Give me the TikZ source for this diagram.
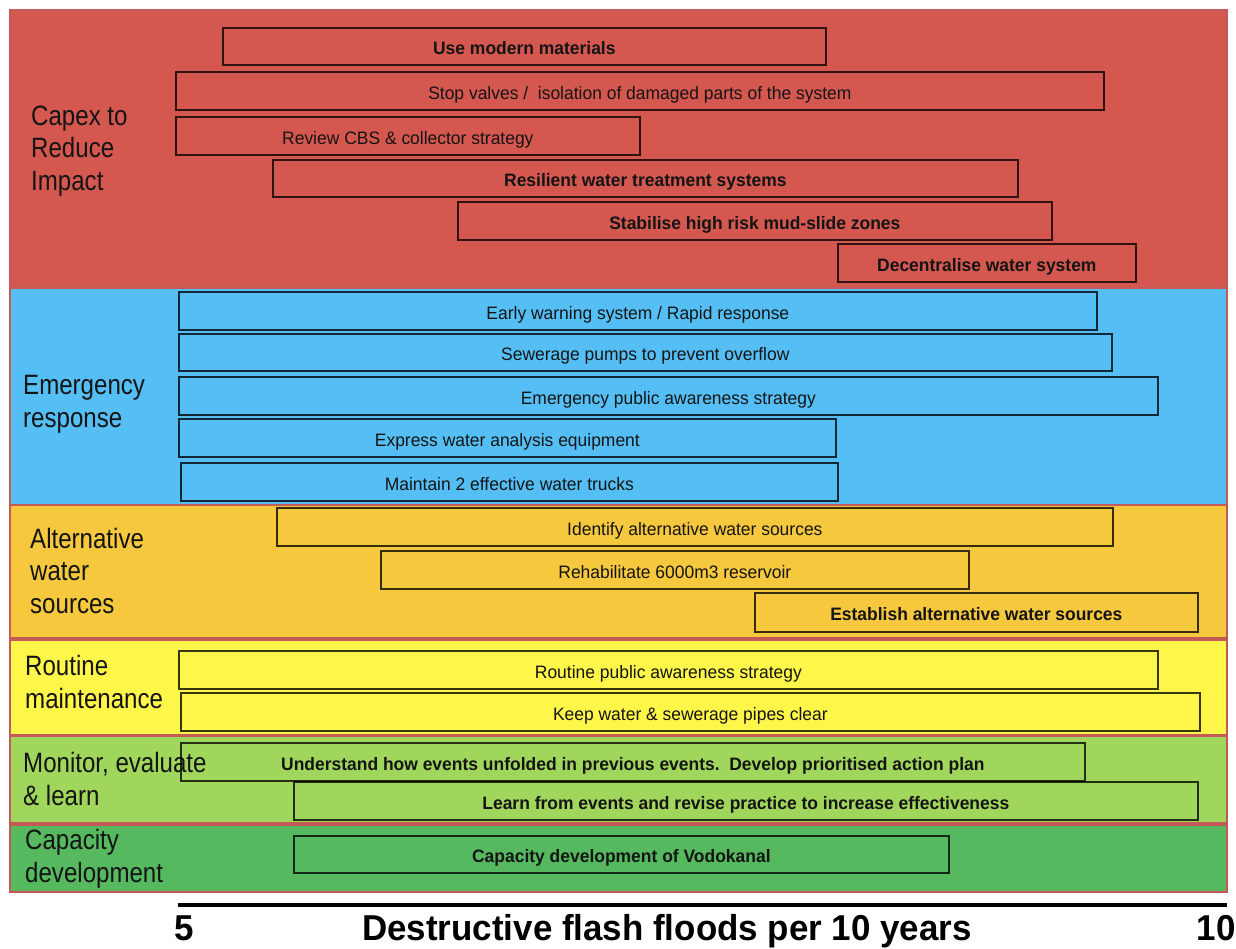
\documentclass[tikz,border=0pt]{standalone}
\usepackage{fontspec}
\newfontfamily\narrow[FakeStretch=0.86]{Liberation Sans}
\newfontfamily\boxfont[FakeStretch=0.97]{Liberation Sans}
\definecolor{bandred}{RGB}{212,87,80}
\definecolor{bandblue}{RGB}{85,191,245}
\definecolor{bandorange}{RGB}{246,200,62}
\definecolor{bandyellow}{RGB}{255,246,74}
\definecolor{bandlgreen}{RGB}{160,214,92}
\definecolor{bandgreen}{RGB}{86,185,96}
\definecolor{bandedge}{RGB}{196,90,88}
\definecolor{inkdark}{RGB}{20,20,20}
\tikzset{
  band/.style={draw=bandedge, line width=1.2pt},
  box/.style={draw=black, draw opacity=0.78, line width=1.7pt, anchor=north west,
    inner sep=0pt, text height=17pt, text depth=0pt, text=inkdark,
    font=\boxfont\fontsize{18}{21}\selectfont},
  bbox/.style={box, font=\boxfont\bfseries\fontsize{18}{21}\selectfont},
  catlabel/.style={anchor=base west, align=left, inner sep=0pt, text=inkdark,
    font=\narrow\fontsize{28}{32.5}\selectfont},
  axislabel/.style={anchor=base, inner sep=0pt, text=black, font=\boxfont\bfseries\fontsize{36}{42}\selectfont}
}
\newcommand{\bx}[7]{%
  \node[#1, minimum width={(#5-#3)*1pt}, minimum height={(#6-#4)*1pt}] (#2) at (#3,#4) {#7};}
\begin{document}
\begin{tikzpicture}[x=1pt,y=-1pt]
\useasboundingbox[fill=white] (0,0) rectangle (1236,948);
% bands
\path[band, fill=bandred]    (10,10)  rectangle (1227,288);
\path[band, fill=bandblue]   (10,288) rectangle (1227,505);
\path[band, fill=bandorange] (10,505) rectangle (1227,638);
\path[band, fill=bandyellow] (10,640) rectangle (1227,735);
\path[band, fill=bandlgreen] (10,736) rectangle (1227,823);
\path[band, fill=bandgreen]  (10,825) rectangle (1227,892);
% category labels (anchor = baseline of last line)
\node[catlabel] (capex) at (31,190) {Capex to\\Reduce\\Impact};
\node[catlabel] (emerg) at (23,427) {Emergency\\response};
\node[catlabel] (alt) at (30,613) {Alternative\\water\\sources};
\node[catlabel] (rout) at (25,708) {Routine\\maintenance};
\node[catlabel] (mon) at (23,805) {Monitor, evaluate\\\& learn};
\node[catlabel] (cap) at (25,882) {Capacity\\development};
% red boxes
\bx{bbox}{r1}{222}{27}{825}{64}{Use modern materials}
\bx{box}{r2}{175}{71}{1103}{109}{Stop valves /\ \ isolation of damaged parts of the system}
\bx{box}{r3}{175}{116}{639}{154}{Review CBS \& collector strategy}
\bx{bbox}{r4}{272}{159}{1017}{196}{Resilient water treatment systems}
\bx{bbox}{r5}{457}{201}{1051}{239}{Stabilise high risk mud-slide zones}
\bx{bbox}{r6}{837}{243}{1135}{281}{Decentralise water system}
% blue boxes
\bx{box}{b1}{178}{291}{1096}{329}{Early warning system / Rapid response}
\bx{box}{b2}{178}{333}{1111}{370}{Sewerage pumps to prevent overflow}
\bx{box}{b3}{178}{376}{1157}{414}{Emergency public awareness strategy}
\bx{box}{b4}{178}{418}{835}{456}{Express water analysis equipment}
\bx{box}{b5}{180}{462}{837}{500}{Maintain 2 effective water trucks}
% orange boxes
\bx{box}{o1}{276}{507}{1112}{545}{Identify alternative water sources}
\bx{box}{o2}{380}{550}{968}{588}{Rehabilitate 6000m3 reservoir}
\bx{bbox}{o3}{754}{592}{1197}{631}{Establish alternative water sources}
% yellow boxes
\bx{box}{y1}{178}{650}{1157}{688}{Routine public awareness strategy}
\bx{box}{y2}{180}{692}{1199}{730}{Keep water \& sewerage pipes clear}
% light green boxes
\bx{bbox}{g1}{180}{742}{1084}{780}{Understand how events unfolded in previous events.\ \ Develop prioritised action plan}
\bx{bbox}{g2}{293}{781}{1197}{819}{Learn from events and revise practice to increase effectiveness}
% green box
\bx{bbox}{c1}{293}{835}{948}{872}{Capacity development of Vodokanal}
% axis
\coordinate (axL) at (178,905);
\coordinate (axR) at (1227,905);
\draw[line width=4pt, black] (axL) -- (axR);
\node[axislabel] (five) at (184,940) {5};
\node[axislabel] (title) at (667,940) {Destructive flash floods per 10 years};
\node[axislabel, anchor=base east] (ten) at (1236,940) {10};
\end{tikzpicture}
\end{document}
